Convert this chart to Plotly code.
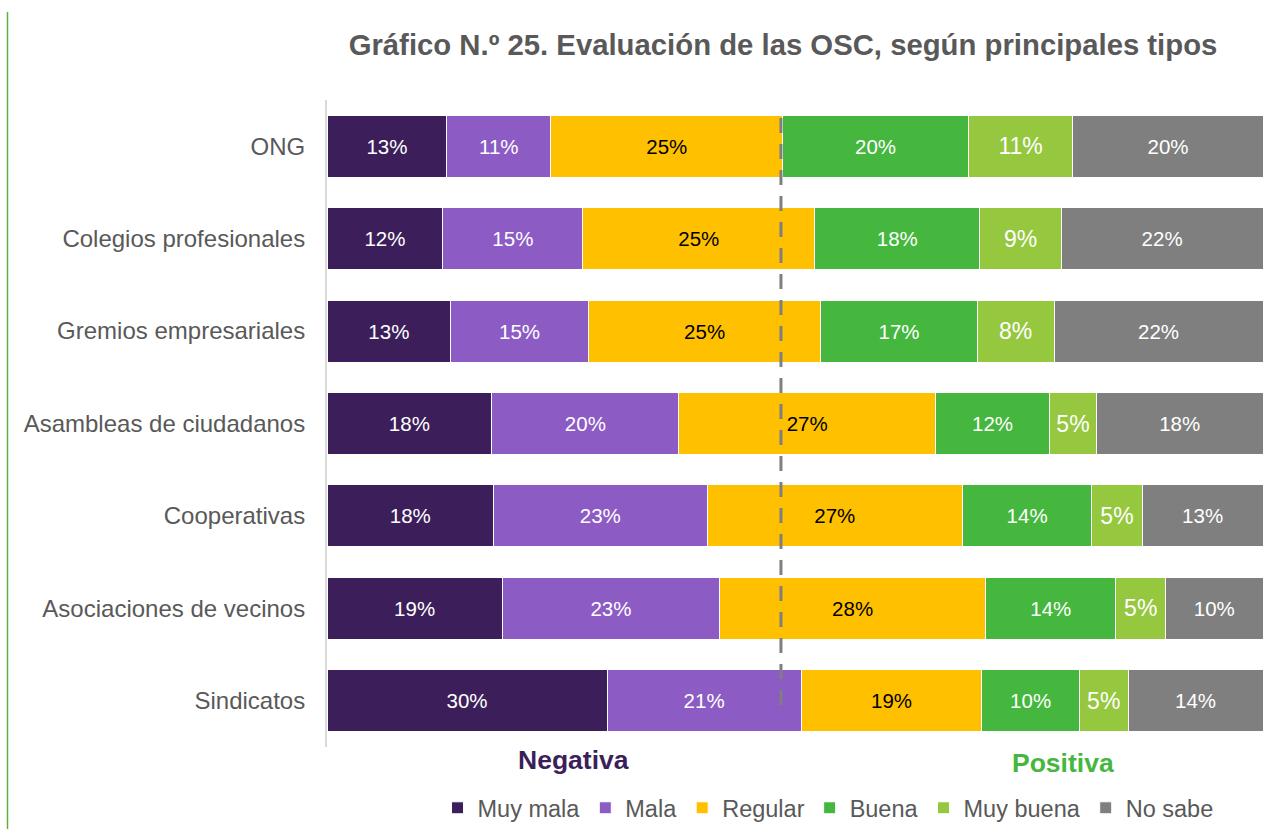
import plotly.graph_objects as go

categories = ["ONG", "Colegios profesionales", "Gremios empresariales",
              "Asambleas de ciudadanos", "Cooperativas",
              "Asociaciones de vecinos", "Sindicatos"]

series_names = ["Muy mala", "Mala", "Regular", "Buena", "Muy buena", "No sabe"]

muy_mala = [12.8, 12.4, 13.2, 17.6, 17.8, 18.7, 29.9]
mala = [11.1, 15.0, 14.7, 20.0, 22.8, 23.2, 20.7]
regular = [24.8, 24.8, 24.8, 27.4, 27.3, 28.4, 19.3]
buena = [19.8, 17.7, 16.7, 12.2, 13.8, 13.9, 10.4]
muy_buena = [11.2, 8.7, 8.2, 5.0, 5.4, 5.3, 5.2]
no_sabe = [20.3, 21.6, 22.3, 17.8, 12.9, 10.4, 14.4]

divider_x = 48.5

series_values = [muy_mala, mala, regular, buena, muy_buena, no_sabe]
colors = ["#3c1f5a", "#8c5bc4", "#ffc000", "#45b73e", "#96c83f", "#7f7f7f"]
text_colors = ["white", "white", "black", "white", "white", "white"]
text_sizes = [20.5, 20.5, 20.5, 20.5, 23, 20.5]

FONT = "Arial, Liberation Sans, sans-serif"

W, H = 1288, 829
L, R, T, B = 327, 25, 100, 82
PW, PH = W - L - R, H - T - B
def px(xf):
    return (xf - L) / PW
def py(yf):
    return (H - B - yf) / PH

fig = go.Figure()
for name, vals, col, tc, ts in zip(series_names, series_values, colors, text_colors, text_sizes):
    fig.add_trace(go.Bar(
        y=categories, x=vals, name=name, orientation="h",
        marker=dict(color=col, line=dict(color="white", width=1)),
        text=[f"{v:.0f}%" for v in vals],
        textposition="inside", insidetextanchor="middle",
        textfont=dict(color=tc, size=ts, family=FONT),
        constraintext="none",
        hoverinfo="skip",
    ))

fig.update_layout(
    barmode="stack",
    barnorm="percent",
    bargap=0.33,
    width=W, height=H,
    margin=dict(l=L, r=R, t=T, b=B, autoexpand=False),
    paper_bgcolor="white", plot_bgcolor="white",
    font=dict(family=FONT, color="#595959"),
    title=dict(text="<b>Gráfico N.º 25. Evaluación de las OSC, según principales tipos</b>",
               x=783 / W, xref="container", xanchor="center",
               y=1 - 45 / H, yref="container", yanchor="middle",
               font=dict(size=29.3, color="#595959", family=FONT)),
    xaxis=dict(range=[0, 100], showticklabels=False, showgrid=False,
               zeroline=False, showline=False, fixedrange=True),
    yaxis=dict(categoryorder="array", categoryarray=categories, autorange="reversed",
               showgrid=False, zeroline=False, showline=True, linecolor="#d9d9d9",
               linewidth=2, ticks="", ticklabelstandoff=15, fixedrange=True,
               tickfont=dict(size=24, color="#595959", family=FONT)),
    legend=dict(orientation="h", x=px(828), xanchor="center",
                y=py(808), yanchor="middle",
                font=dict(size=23.5, color="#595959", family=FONT),
                traceorder="normal", itemclick=False),
    showlegend=True,
)

fig.add_shape(type="line", xref="x", yref="paper",
              x0=divider_x, x1=divider_x, y0=py(705), y1=py(114),
              line=dict(color="#7f7f7f", width=3, dash="15px,11px"), layer="above")

fig.add_shape(type="line", xref="paper", yref="paper",
              x0=px(7.5), x1=px(7.5),
              y0=py(H + 5), y1=py(12),
              line=dict(color="#5fae3f", width=1.5))

fig.add_annotation(text="<b>Negativa</b>", xref="paper", yref="paper",
                   x=px(573), y=py(760),
                   xanchor="center", yanchor="middle", showarrow=False,
                   font=dict(size=26.5, color="#3c1f5a", family=FONT))
fig.add_annotation(text="<b>Positiva</b>", xref="paper", yref="paper",
                   x=px(1063), y=py(763),
                   xanchor="center", yanchor="middle", showarrow=False,
                   font=dict(size=26.5, color="#45b73e", family=FONT))

fig.write_html("out.html",
               config={"displayModeBar": False},
               post_script="document.body.style.margin='0';document.body.style.overflow='hidden';")
